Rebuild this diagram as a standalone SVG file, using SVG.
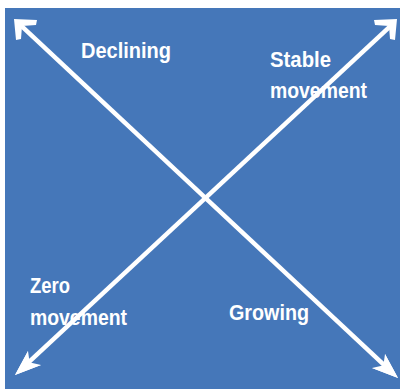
<svg xmlns="http://www.w3.org/2000/svg" width="404" height="389" viewBox="0 0 404 389">
<style>
.lbl{font-family:"Liberation Sans Narrow","Liberation Sans",Arial,sans-serif;font-weight:bold;font-size:22px;fill:#ffffff;}
.ln{stroke:#ffffff;stroke-width:4.5;fill:none;}
.hd{fill:#ffffff;}
</style>
<rect x="5" y="8" width="395" height="381" fill="#4577b9"/>
<g id="connectors">
<line class="ln" x1="20" y1="24.6" x2="392" y2="372.4"/>
<line class="ln" x1="392" y1="24.6" x2="21" y2="369.4"/>
<polygon class="hd" points="14,19 37,20 36,25 22,26 21,39 16,40"/>
<polygon class="hd" points="397,19 374,20 375,25 389,26 390,39 395,40"/>
<polygon class="hd" points="398,378 372,368 385,365 385,354"/>
<polygon class="hd" points="398,378 385,354 383,368 372,368"/>
<polygon class="hd" points="15,375 41,365 28,362 28,351"/>
<polygon class="hd" points="15,375 28,351 30,365 41,365"/>
</g>
<g id="declining"><text class="lbl" x="81" y="58" textLength="90" lengthAdjust="spacingAndGlyphs">Declining</text></g>
<g id="stable"><text class="lbl" x="270" y="67" textLength="61" lengthAdjust="spacingAndGlyphs">Stable</text><text class="lbl" x="270" y="98" textLength="97" lengthAdjust="spacingAndGlyphs">movement</text></g>
<g id="zero"><text class="lbl" x="30" y="293" textLength="40" lengthAdjust="spacingAndGlyphs">Zero</text><text class="lbl" x="30" y="325" textLength="97" lengthAdjust="spacingAndGlyphs">movement</text></g>
<g id="growing"><text class="lbl" x="229" y="320" textLength="80" lengthAdjust="spacingAndGlyphs">Growing</text></g>
</svg>
